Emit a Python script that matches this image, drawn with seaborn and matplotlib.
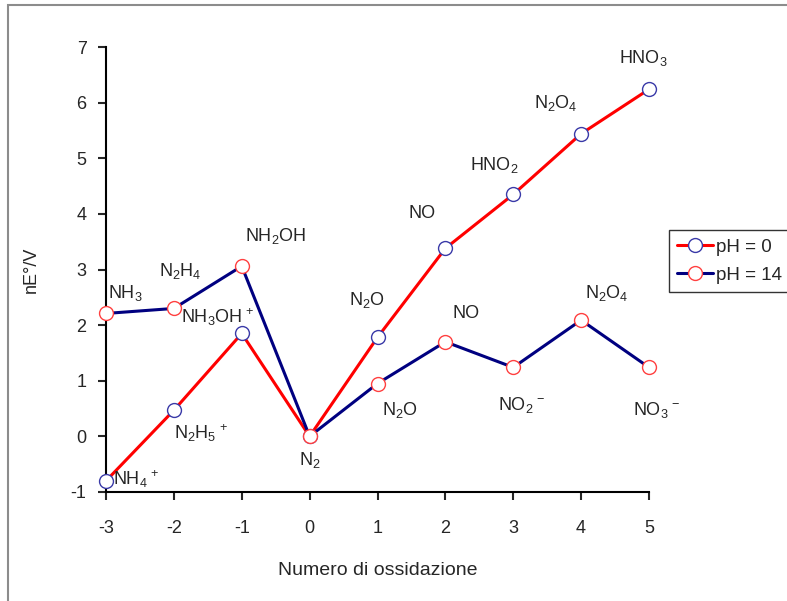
import numpy as np
import pandas as pd
import matplotlib
matplotlib.use("Agg")
import matplotlib.pyplot as plt
import seaborn as sns
from matplotlib.patches import Rectangle

# oxidation numbers and n*E° values
ox_numbers = [-3, -2, -1, 0, 1, 2, 3, 4, 5]
ph0_values = [-0.80, 0.47, 1.85, 0.0, 1.78, 3.38, 4.35, 5.44, 6.24]
ph14_values = [2.21, 2.30, 3.06, 0.0, 0.95, 1.70, 1.24, 2.09, 1.24]

ph0_labels = ["NH$_4$$^{\\,+}$", "N$_2$H$_5$$^{\\,+}$", "NH$_3$OH$^{\\,+}$", "N$_2$",
              "N$_2$O", "NO", "HNO$_2$", "N$_2$O$_4$", "HNO$_3$"]
ph14_labels = ["NH$_3$", "N$_2$H$_4$", "NH$_2$OH", None,
               "N$_2$O", "NO", "NO$_2$$^{\\,-}$", "N$_2$O$_4$", "NO$_3$$^{\\,-}$"]

# where each species label sits (data coords)
ph0_label_pos = [(-2.55, -0.76), (-1.6, 0.05), (-1.35, 2.15), (0.0, -0.42),
                 (0.85, 2.45), (1.65, 4.0), (2.72, 4.88), (3.63, 6.0), (4.92, 6.8)]
ph14_label_pos = [(-2.72, 2.57), (-1.9, 2.97), (-0.5, 3.6), None,
                  (1.33, 0.47), (2.3, 2.2), (3.12, 0.56), (4.37, 2.57), (5.12, 0.47)]

df = pd.DataFrame({
    "ox": ox_numbers * 2,
    "value": ph0_values + ph14_values,
    "serie": ["pH = 0"] * 9 + ["pH = 14"] * 9,
})

sns.set_style("white")
plt.rcParams["font.family"] = ["Liberation Sans", "DejaVu Sans"]
plt.rcParams["mathtext.fontset"] = "custom"
plt.rcParams["mathtext.rm"] = "Liberation Sans"
plt.rcParams["mathtext.it"] = "Liberation Sans"
plt.rcParams["axes.unicode_minus"] = False

fig = plt.figure(figsize=(7.87, 6.01), dpi=100)
fig.patches.append(Rectangle((8 / 787, -0.1), 1.2, 1.1 - 5 / 601,
                             transform=fig.transFigure, fill=False,
                             edgecolor="#8c8c8c", lw=1.5))
ax = fig.add_axes([106 / 787, 1 - 492 / 601, 543 / 787, 445 / 601])

styles = {"pH = 0": ("#ff0000", "#3a3aa8"), "pH = 14": ("#000080", "#ff4040")}
for name, (lc, mc) in styles.items():
    sub = df[df["serie"] == name]
    sns.lineplot(data=sub, x="ox", y="value", ax=ax, color=lc, lw=2.2,
                 marker="o", markersize=10, markerfacecolor="white",
                 markeredgecolor=mc, markeredgewidth=1.0, label=name,
                 sort=False, clip_on=False, zorder=3)

for lab, pos in zip(ph0_labels + ph14_labels, ph0_label_pos + ph14_label_pos):
    if lab is None:
        continue
    ax.text(pos[0], pos[1], lab, ha="center", va="center", fontsize=13)

ax.set_xlim(-3, 5)
ax.set_ylim(-1, 7)
ax.set_xticks(ox_numbers)
ax.set_yticks(range(-1, 8))
ax.set_facecolor("none")
sns.despine(ax=ax)
for s in ["left", "bottom"]:
    ax.spines[s].set_color("black")
    ax.spines[s].set_linewidth(1.5)
ax.tick_params(axis="x", direction="out", length=6, width=1.5, pad=14,
               labelsize=13, bottom=True)
ax.tick_params(axis="y", direction="out", length=6, width=1.5, pad=8,
               labelsize=13, left=True)
ax.set_xlabel("Numero di ossidazione", fontsize=14, labelpad=18)
ax.set_ylabel("nE°/V", fontsize=13, labelpad=22)

ax.legend(loc="upper left", bbox_to_anchor=(669 / 787, 1 - 230 / 601),
          bbox_transform=fig.transFigure, fontsize=13.5, frameon=True,
          fancybox=False, edgecolor="black", handlelength=1.9,
          handletextpad=0.15, borderpad=0.45, borderaxespad=0,
          labelspacing=0.6, alignment="left")
ax.get_legend().get_frame().set_linewidth(1.0)

fig.savefig("out.png", dpi=100)
